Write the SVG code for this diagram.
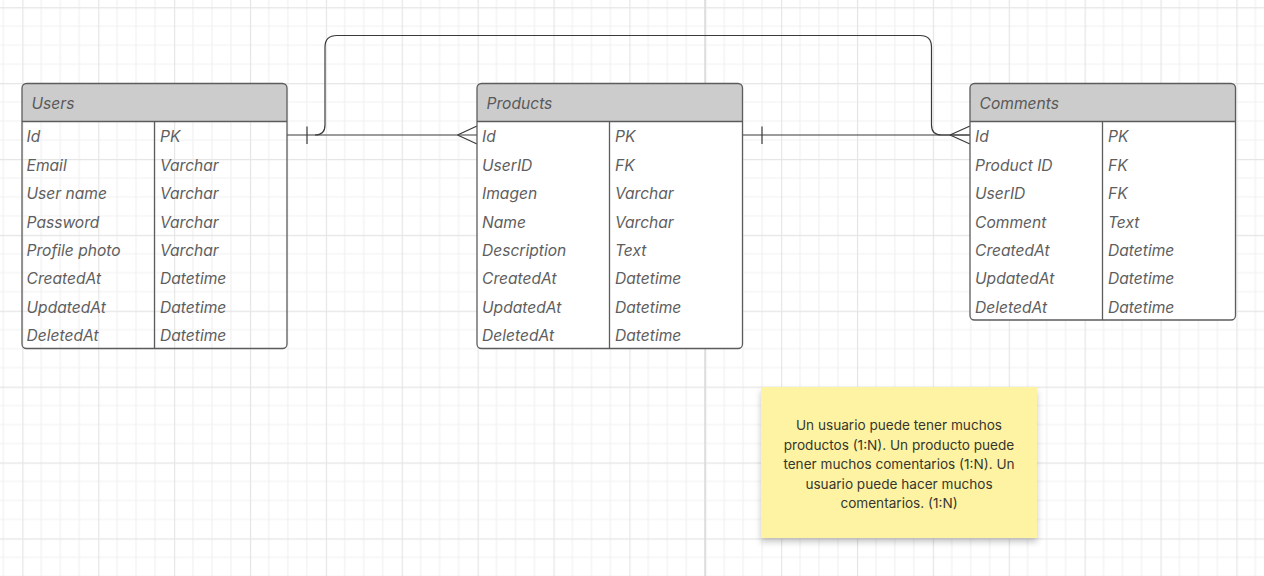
<svg xmlns="http://www.w3.org/2000/svg" width="1264" height="576" viewBox="0 0 1264 576">
<style>
.frame{fill:#ffffff;stroke:#5c5c5c;stroke-width:1.3}
.head{fill:#cccccc}
.sep{stroke:#5c5c5c;stroke-width:1.3;fill:none}
.t{font-family:Inter,"Noto Sans","Liberation Sans",sans-serif;font-style:italic;font-size:15.6px;fill:#5e5e5e}
.h{font-family:Inter,"Noto Sans","Liberation Sans",sans-serif;font-style:italic;font-size:15.6px;fill:#595959}
.conn{fill:none;stroke:#3a3a3a;stroke-width:1.2}
.note{font-family:Inter,"Noto Sans","Liberation Sans",sans-serif;font-size:13.6px;fill:#36362e;text-anchor:middle}
</style>
<defs>
<pattern id="grid" x="22.3" y="7.2" width="75.88" height="75.88" patternUnits="userSpaceOnUse">
<path d="M18.97 0V75.88M37.94 0V75.88M56.91 0V75.88M0 18.97H75.88M0 37.94H75.88M0 56.91H75.88" stroke="#f1f1f1" stroke-width="1.2" fill="none"/>
<path d="M0.5 0V75.88M0 0.5H75.88" stroke="#e5e5e5" stroke-width="1.3" fill="none"/>
</pattern>
<filter id="shadow" x="-10%" y="-10%" width="120%" height="130%">
<feDropShadow dx="0" dy="4" stdDeviation="3" flood-color="#000" flood-opacity="0.22"/>
</filter>
</defs>
<rect width="1264" height="576" fill="#ffffff"/>
<rect width="1264" height="576" fill="url(#grid)"/>
<line x1="705" y1="0" x2="705" y2="576" stroke="#dadada" stroke-width="1.5"/>

<g id="connectors">
<path class="conn" d="M287 135H477"/>
<path class="conn" d="M307 126.5V144"/>
<path class="conn" d="M457.5 135L477 126M457.5 135L477 144"/>
<path class="conn" d="M315 135Q325 135 325 125V47Q325 35.5 337 35.5H920Q931.5 35.5 931.5 47V125Q931.5 135 941.5 135H970"/>
<path class="conn" d="M743 135H970"/>
<path class="conn" d="M762 126.5V144"/>
<path class="conn" d="M950 135L970 126M950 135L970 144"/>
</g>

<g id="users">
<path class="head" d="M22 121.5V88Q22 83.5 26.5 83.5H282.5Q287 83.5 287 88V121.5Z"/>
<rect x="22" y="83.5" width="265" height="265" rx="4.5" fill="none" stroke="#5c5c5c" stroke-width="1.3"/>
<path class="sep" d="M22 121.5H287M154.5 121.5V348.5"/>
<text class="h" x="31.5" y="108.5">Users</text>
<g class="t">
<text x="26.5" y="142.3">Id</text><text x="160" y="142.3">PK</text>
<text x="26.5" y="170.7">Email</text><text x="160" y="170.7">Varchar</text>
<text x="26.5" y="199.1">User name</text><text x="160" y="199.1">Varchar</text>
<text x="26.5" y="227.5">Password</text><text x="160" y="227.5">Varchar</text>
<text x="26.5" y="255.9">Profile photo</text><text x="160" y="255.9">Varchar</text>
<text x="26.5" y="284.3">CreatedAt</text><text x="160" y="284.3">Datetime</text>
<text x="26.5" y="312.7">UpdatedAt</text><text x="160" y="312.7">Datetime</text>
<text x="26.5" y="341.1">DeletedAt</text><text x="160" y="341.1">Datetime</text>
</g>
</g>

<g id="products">
<rect x="477" y="83.5" width="265.5" height="265" rx="4.5" fill="#ffffff"/>
<path class="head" d="M477 121.5V88Q477 83.5 481.5 83.5H738Q742.5 83.5 742.5 88V121.5Z"/>
<rect x="477" y="83.5" width="265.5" height="265" rx="4.5" fill="none" stroke="#5c5c5c" stroke-width="1.3"/>
<path class="sep" d="M477 121.5H742.5M609.5 121.5V348.5"/>
<text class="h" x="486.5" y="108.5">Products</text>
<g class="t">
<text x="482" y="142.3">Id</text><text x="615" y="142.3">PK</text>
<text x="482" y="170.7">UserID</text><text x="615" y="170.7">FK</text>
<text x="482" y="199.1">Imagen</text><text x="615" y="199.1">Varchar</text>
<text x="482" y="227.5">Name</text><text x="615" y="227.5">Varchar</text>
<text x="482" y="255.9">Description</text><text x="615" y="255.9">Text</text>
<text x="482" y="284.3">CreatedAt</text><text x="615" y="284.3">Datetime</text>
<text x="482" y="312.7">UpdatedAt</text><text x="615" y="312.7">Datetime</text>
<text x="482" y="341.1">DeletedAt</text><text x="615" y="341.1">Datetime</text>
</g>
</g>

<g id="comments">
<rect x="970" y="83.5" width="265.5" height="236.5" rx="4.5" fill="#ffffff"/>
<path class="head" d="M970 121.5V88Q970 83.5 974.5 83.5H1231Q1235.5 83.5 1235.5 88V121.5Z"/>
<rect x="970" y="83.5" width="265.5" height="236.5" rx="4.5" fill="none" stroke="#5c5c5c" stroke-width="1.3"/>
<path class="sep" d="M970 121.5H1235.5M1102.5 121.5V320"/>
<text class="h" x="979.5" y="108.5">Comments</text>
<g class="t">
<text x="975" y="142.3">Id</text><text x="1108" y="142.3">PK</text>
<text x="975" y="170.7">Product ID</text><text x="1108" y="170.7">FK</text>
<text x="975" y="199.1">UserID</text><text x="1108" y="199.1">FK</text>
<text x="975" y="227.5">Comment</text><text x="1108" y="227.5">Text</text>
<text x="975" y="255.9">CreatedAt</text><text x="1108" y="255.9">Datetime</text>
<text x="975" y="284.3">UpdatedAt</text><text x="1108" y="284.3">Datetime</text>
<text x="975" y="312.7">DeletedAt</text><text x="1108" y="312.7">Datetime</text>
</g>
</g>

<g id="note">
<rect x="761" y="387" width="276" height="151" fill="#fef3a2" filter="url(#shadow)"/>
<text class="note" x="899" y="430">Un usuario puede tener muchos</text>
<text class="note" x="899" y="449.6">productos (1:N). Un producto puede</text>
<text class="note" x="899" y="469.2">tener muchos comentarios (1:N). Un</text>
<text class="note" x="899" y="488.8">usuario puede hacer muchos</text>
<text class="note" x="899" y="508.4">comentarios. (1:N)</text>
</g>
</svg>
